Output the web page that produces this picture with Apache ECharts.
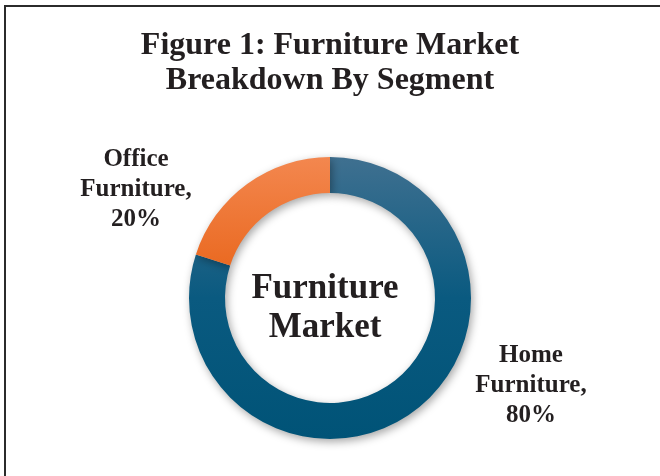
<!DOCTYPE html>
<html>
<head>
<meta charset="utf-8">
<script src="https://cdn.jsdelivr.net/npm/echarts@6/dist/echarts.min.js"></script>
<style>
  html, body { margin: 0; padding: 0; background: #fff; }
  #wrap { position: relative; width: 660px; height: 476px; overflow: hidden; }
  #chart { position: absolute; left: 0; top: 0; width: 660px; height: 476px; }
  #frame {
    position: absolute; left: 4px; top: 5px; right: -10px; bottom: -10px;
    border-top: 2px solid #2b2b2b; border-left: 2px solid #2b2b2b;
    pointer-events: none;
  }
</style>
</head>
<body>
<div id="wrap">
  <div id="chart"></div>
  <div id="frame"></div>
</div>
<script>
/* Figure 1: Furniture market breakdown by segment (donut) */

const segments = ["Home\nFurniture", "Office\nFurniture"];
const shares = [80, 20];
const centerText = "Furniture\nMarket";

const FONT = '"Liberation Serif", "Times New Roman", serif';
const INK = "#231f20";

// where each segment's label sits (chart pixels)
const labelSpots = [
  { x: 531, y: 386 },
  { x: 136, y: 190 }
];

const fills = [
  {
    type: "linear", x: 0, y: 0, x2: 0, y2: 1,
    colorStops: [
      { offset: 0, color: "#3f7090" },
      { offset: 0.5, color: "#0a5a80" },
      { offset: 1, color: "#005377" }
    ]
  },
  {
    type: "linear", x: 0, y: 0, x2: 0, y2: 1,
    colorStops: [
      { offset: 0, color: "#f3874f" },
      { offset: 1, color: "#ea6a22" }
    ]
  }
];

const chart = echarts.init(document.getElementById("chart"), null, { renderer: "canvas" });

chart.setOption({
  animation: false,
  title: {
    text: "Figure 1: Furniture Market\nBreakdown By Segment",
    left: "center",
    top: 23,
    textStyle: {
      fontFamily: FONT,
      fontWeight: "bold",
      fontSize: 32,
      lineHeight: 35,
      color: INK
    }
  },
  graphic: [{
    type: "text",
    x: 325,
    y: 308,
    style: {
      text: centerText,
      fontFamily: FONT,
      fontWeight: "bold",
      fontSize: 35,
      lineHeight: 39,
      fill: INK,
      align: "center",
      verticalAlign: "middle"
    }
  }],
  series: [{
    type: "pie",
    center: [330, 298],
    radius: [105, 141],
    startAngle: 90,
    clockwise: true,
    silent: true,
    itemStyle: {
      shadowBlur: 8,
      shadowColor: "rgba(0,0,0,0.35)",
      shadowOffsetX: 2,
      shadowOffsetY: 3
    },
    label: {
      show: true,
      position: "outside",
      formatter: (p) => `${p.name},\n${p.value}%`,
      fontFamily: FONT,
      fontWeight: "bold",
      fontSize: 25,
      lineHeight: 30,
      color: INK,
      align: "center"
    },
    labelLine: { show: false },
    labelLayout: (params) => {
      const spot = labelSpots[params.dataIndex];
      return { x: spot.x, y: spot.y, align: "center", verticalAlign: "middle" };
    },
    data: segments.map((name, i) => ({
      name: name,
      value: shares[i],
      itemStyle: { color: fills[i] }
    }))
  }]
});
</script>
</body>
</html>
